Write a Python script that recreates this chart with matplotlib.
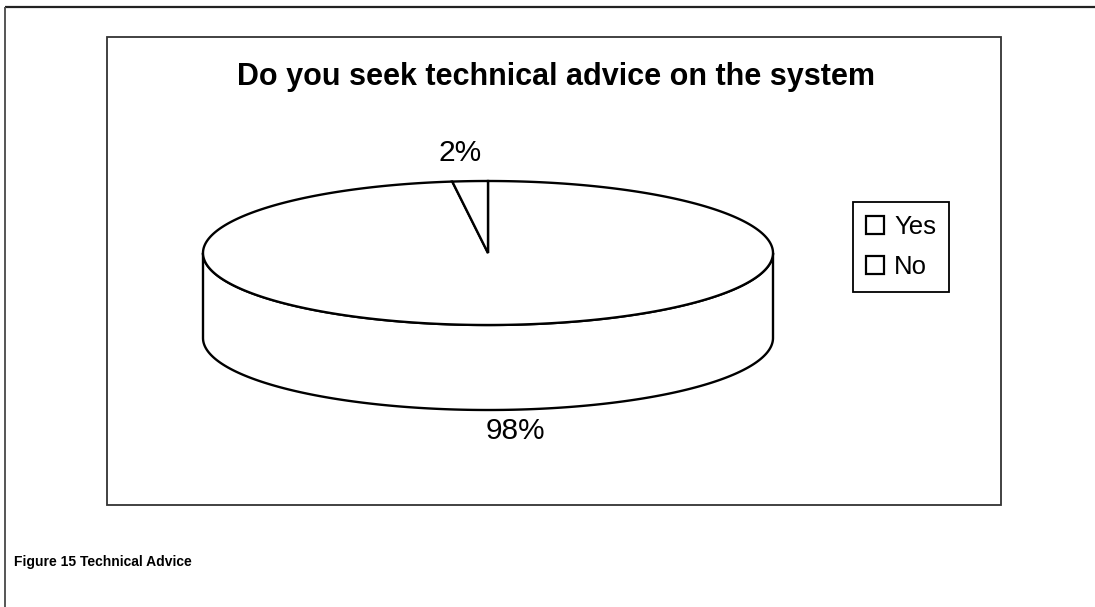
import numpy as np
import matplotlib
matplotlib.use("Agg")
import matplotlib.pyplot as plt
from matplotlib.patches import Polygon, Rectangle, Patch

# survey answers
labels = ["Yes", "No"]
shares = [98, 2]

title = "Do you seek technical advice on the system"
caption = "Figure 15 Technical Advice"

plt.rcParams["font.family"] = ["Liberation Sans", "DejaVu Sans"]

fig = plt.figure(figsize=(10.95, 6.07), dpi=100)
ax = fig.add_axes([0, 0, 1, 1])
ax.set_xlim(0, 1095)
ax.set_ylim(607, 0)
ax.axis("off")

# page frame and chart area
ax.plot([5, 1095], [6.5, 6.5], color="#222222", lw=1.6, solid_capstyle="butt")
ax.plot([5, 5], [6.5, 607], color="#555555", lw=1.4, solid_capstyle="butt")
ax.add_patch(Rectangle((107, 37), 894, 468, fill=False, ec="#333333", lw=1.3))

ax.text(556, 77, title, ha="center", va="center", fontsize=22, fontweight="bold")
ax.text(14, 562, caption, ha="left", va="center", fontsize=10, fontweight="bold")

# 3-D pie geometry (pixel space)
cx, cy, rx, ry, depth = 488, 253, 285, 72, 85


def rim(theta, drop=0.0):
    # theta in degrees, clockwise from 12 o'clock
    t = np.radians(theta)
    return cx + rx * np.sin(t), cy - ry * np.cos(t) + drop


total = float(sum(shares))
bounds = np.concatenate([[0], np.cumsum(shares) / total * 360.0])
lw = 1.7

# side walls, only the front half is visible
for a0, a1 in zip(bounds[:-1], bounds[1:]):
    lo, hi = max(a0, 90.0), min(a1, 270.0)
    if hi <= lo:
        continue
    th = np.linspace(lo, hi, 200)
    xt, yt = rim(th)
    xb, yb = rim(th[::-1], depth)
    pts = np.column_stack([np.concatenate([xt, xb]), np.concatenate([yt, yb])])
    ax.add_patch(Polygon(pts, closed=True, fc="white", ec="black", lw=lw, joinstyle="round"))

# top faces
for a0, a1 in zip(bounds[:-1], bounds[1:]):
    th = np.linspace(a0, a1, 400)
    xs, ys = rim(th)
    pts = np.column_stack([np.concatenate([[cx], xs]), np.concatenate([[cy], ys])])
    ax.add_patch(Polygon(pts, closed=True, fc="white", ec="black", lw=lw, joinstyle="miter"))

# percentage labels
for a0, a1, v in zip(bounds[:-1], bounds[1:], shares):
    mid = (a0 + a1) / 2.0
    if np.cos(np.radians(mid)) > 0:
        x, y = rim(mid)
        ax.text(x - 10, y - 28, f"{v:.0f}%", ha="center", va="center", fontsize=21.5)
    else:
        x, y = rim(mid, depth)
        ax.text(x + 10, y + 21, f"{v:.0f}%", ha="center", va="center", fontsize=21.5)

handles = [Patch(fc="white", ec="black", lw=1.6, label=l) for l in labels]
leg = ax.legend(handles=handles, loc="upper left", bbox_to_anchor=(853, 202),
                bbox_transform=ax.transData, fontsize=18.5, frameon=True,
                fancybox=False, edgecolor="black", framealpha=1,
                handlelength=0.7, handleheight=0.7, handletextpad=0.4,
                borderpad=0.5, labelspacing=0.62, borderaxespad=0)
leg.get_frame().set_linewidth(1.3)

fig.savefig("out.png", dpi=100, facecolor="white")
